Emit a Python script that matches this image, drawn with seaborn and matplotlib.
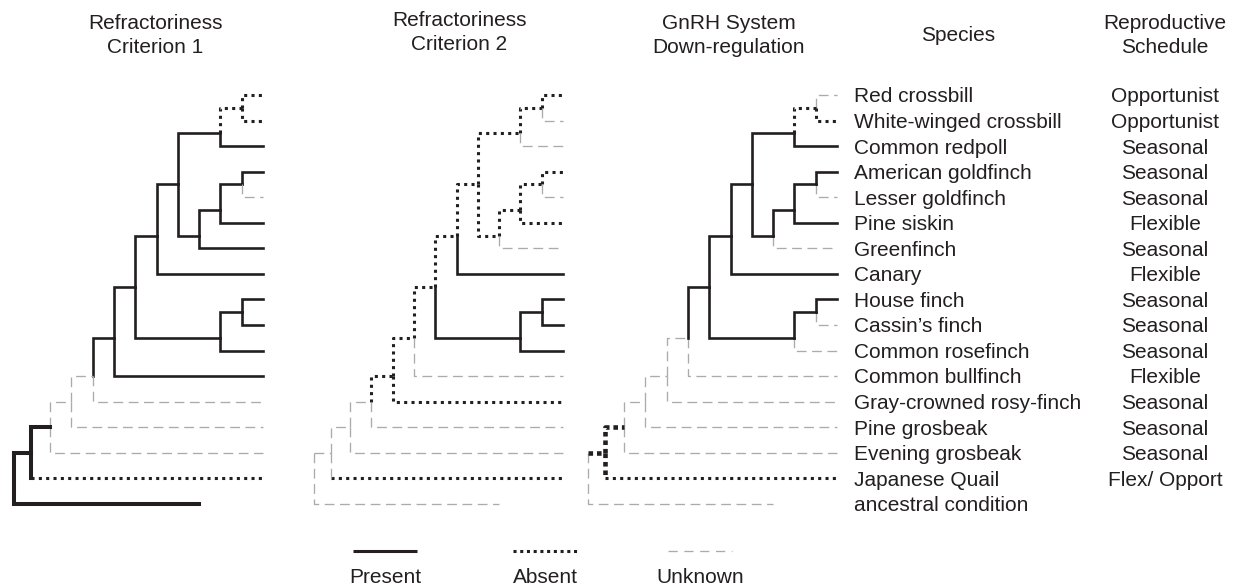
import numpy as np
import pandas as pd
import seaborn as sns
import matplotlib
matplotlib.use("Agg")
import matplotlib.pyplot as plt

# ---- data -------------------------------------------------------------
species = ["Red crossbill", "White-winged crossbill", "Common redpoll", "American goldfinch",
           "Lesser goldfinch", "Pine siskin", "Greenfinch", "Canary", "House finch",
           "Cassin\u2019s finch", "Common rosefinch", "Common bullfinch",
           "Gray-crowned rosy-finch", "Pine grosbeak", "Evening grosbeak",
           "Japanese Quail", "ancestral condition"]
schedule = ["Opportunist", "Opportunist", "Seasonal", "Seasonal", "Seasonal", "Flexible",
            "Seasonal", "Flexible", "Seasonal", "Seasonal", "Seasonal", "Flexible",
            "Seasonal", "Seasonal", "Seasonal", "Flex/ Opport", ""]
panel_titles = [("Refractoriness", "Criterion 1"), ("Refractoriness", "Criterion 2"),
                ("GnRH System", "Down-regulation")]

# tree: every clade joins two children (tips are t0..t16), level = steps back from the tips
clade_name = ["A", "B", "C", "D", "E", "F", "G", "H", "I", "J", "K", "L", "M", "N", "O", "root"]
clade_left = ["t0", "A", "t3", "C", "D", "B", "F", "t8", "H", "G", "J", "K", "L", "M", "N", "O"]
clade_right = ["t1", "t2", "t4", "t5", "t6", "E", "t7", "t9", "t10", "I", "t11", "t12", "t13",
               "t14", "t15", "t16"]
clade_level = [1, 2, 1, 2, 3, 4, 5, 1, 2, 6, 7, 8, 9, 10, 10.9, 11.67]
ancestral_level = 3

# state of each branch: p present, a absent, u unknown (capital = heavy line)
# two letters = vertical part / horizontal part
edge_order = ["t0", "t1", "A", "t2", "B", "t3", "t4", "C", "t5", "D", "t6", "E", "F", "t7", "G",
              "t8", "t9", "H", "t10", "I", "J", "t11", "K", "t12", "L", "t13", "M", "t14", "N",
              "t15", "O", "t16"]
crit1 = "a a a p p  p u p p p  p p p p p  p p p p p  p p p u u  u u u P Pa  P P".split()
crit2 = "a u a u a  a u a a a  u a a p a  p p p p p  a u a a a  u u u u ua  u u".split()
gnrh = "u a a p p  p u p p p  u p p p p  p u p u p  p u u u u  u u u A Aa  A u".split()
panel_states = [crit1, crit2, gnrh]

legend_labels = ["Present", "Absent", "Unknown"]

# ---- layout -----------------------------------------------------------
W, H = 1241, 587
ROW0, ROW = 95, 25.55
LEV = 21.3
tip_px = [263, 563, 837]
ink = "#231f20"
grey = "#a9abae"

pos = {}
for i in range(len(species)):
    pos[f"t{i}"] = (ancestral_level if i == len(species) - 1 else 0, i)
parent = {}
for name, l, r, lev in zip(clade_name, clade_left, clade_right, clade_level):
    yl, yr = pos[l][1], pos[r][1]
    y = yl if name == "root" else np.ceil(yl + yr) / 2
    pos[name] = (lev, y)
    parent[l] = name
    parent[r] = name

rows = []
seg = 0
for p_i, states in enumerate(panel_states):
    for edge, code in zip(edge_order, states):
        px, py = pos[parent[edge]]
        cx, cy = pos[edge]
        if len(code) == 1:
            for x, y in [(px, py), (px, cy), (cx, cy)]:
                rows.append((p_i, seg, x, y, code))
            seg += 1
        else:
            for x, y in [(px, py), (px, cy)]:
                rows.append((p_i, seg, x, y, code[0]))
            seg += 1
            for x, y in [(px, cy), (cx, cy)]:
                rows.append((p_i, seg, x, y, code[1]))
            seg += 1
df = pd.DataFrame(rows, columns=["panel", "seg", "x", "y", "kind"])

sns.set_style("white")
plt.rcParams["font.family"] = ["Liberation Sans", "DejaVu Sans"]
plt.rcParams["lines.solid_capstyle"] = "projecting"
plt.rcParams["lines.solid_joinstyle"] = "miter"
plt.rcParams["lines.dash_capstyle"] = "butt"

palette = {"p": ink, "P": ink, "a": ink, "A": ink, "u": grey}
sizes = {"p": 1.9, "P": 2.9, "a": 2.2, "A": 3.3, "u": 0.95}
dashes = {"p": "", "P": "", "a": (1, 1.4), "A": (1, 0.85), "u": (7.4, 4.2)}

fig = plt.figure(figsize=(W / 100, H / 100), dpi=100)
row_top, row_bot = -ROW0 / ROW, (H - ROW0) / ROW

for p_i in range(3):
    left = (tip_px[p_i] - 12.2 * LEV) / W
    ax = fig.add_axes([left, 0, 12.5 * LEV / W, 1])
    sub = df[df["panel"] == p_i]
    sns.lineplot(data=sub, x="x", y="y", units="seg", estimator=None, sort=False,
                 hue="kind", palette=palette, size="kind", sizes=sizes,
                 style="kind", dashes=dashes, legend=False, ax=ax)
    ax.set_xlim(12.2, -0.3)
    ax.set_ylim(row_bot, row_top)
    ax.axis("off")

# text and key in figure pixels
ov = fig.add_axes([0, 0, 1, 1])
ov.set_xlim(0, W)
ov.set_ylim(H, 0)
ov.axis("off")
fs = 15
title_x = [155, 459, 729]
title_dy = [0, -3, 0]
for (l1, l2), x, dy in zip(panel_titles, title_x, title_dy):
    ov.text(x, 29 + dy, l1, ha="center", va="baseline", fontsize=fs, color=ink)
    ov.text(x, 53 + dy, l2, ha="center", va="baseline", fontsize=fs, color=ink)
ov.text(958, 41, "Species", ha="center", va="baseline", fontsize=fs, color=ink)
ov.text(1165, 29, "Reproductive", ha="center", va="baseline", fontsize=fs, color=ink)
ov.text(1165, 53, "Schedule", ha="center", va="baseline", fontsize=fs, color=ink)

for i, (sp, sc) in enumerate(zip(species, schedule)):
    yb = ROW0 + i * ROW + 7.4
    ov.text(854, yb, sp, ha="left", va="baseline", fontsize=fs, color=ink)
    ov.text(1165, yb, sc, ha="center", va="baseline", fontsize=fs, color=ink)

key_x = [385, 545, 700]
key_style = [dict(color=ink, lw=2.2, ls="-"),
             dict(color=ink, lw=2.2, ls=(0, (1, 1.2))),
             dict(color=grey, lw=0.95, ls=(0, (7, 5)))]
for x, lab, st in zip(key_x, legend_labels, key_style):
    ov.plot([x - 32, x + 32], [551, 551], solid_capstyle="butt", **st)
    ov.text(x, 583, lab, ha="center", va="baseline", fontsize=fs, color=ink)

fig.savefig("out.png", dpi=100, facecolor="white")
